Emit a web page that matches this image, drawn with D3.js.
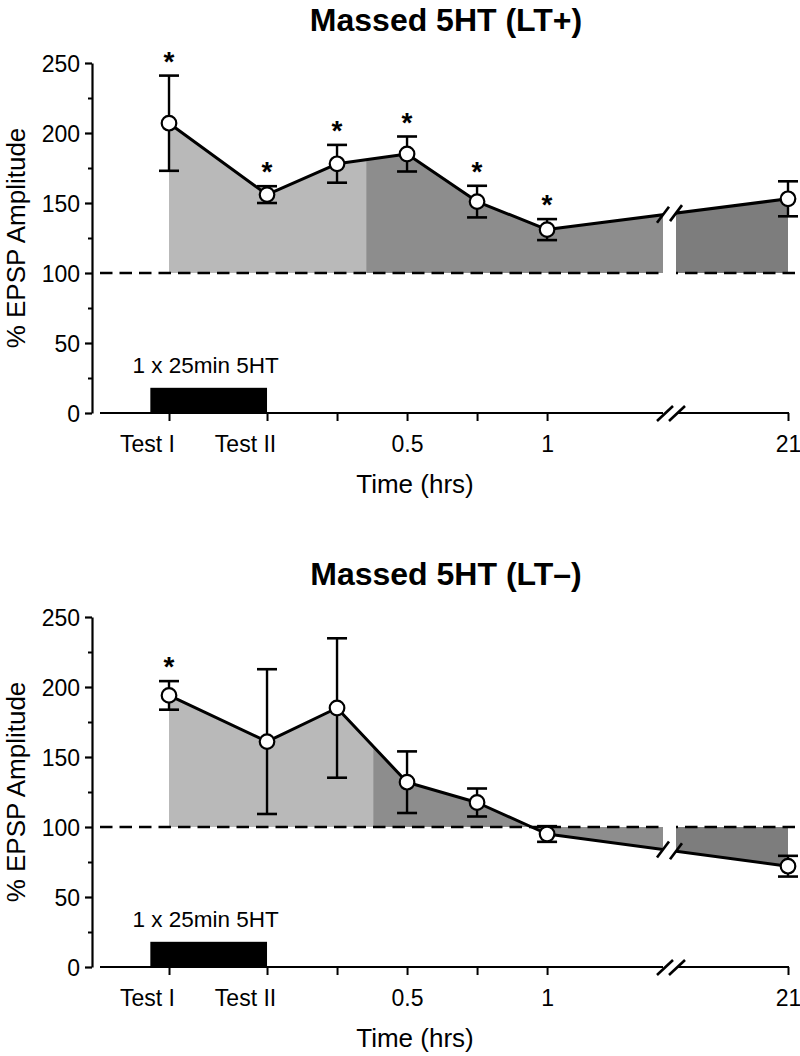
<!DOCTYPE html>
<html><head><meta charset="utf-8">
<script src="https://cdn.jsdelivr.net/npm/d3@7"></script>
<style>
body{margin:0;background:#fff}
svg{display:block}
text{font-family:"Liberation Sans",Arial,Helvetica,sans-serif;fill:#000}
</style>
</head><body>
<svg id="chart" width="800" height="1056"></svg>
<script>
// ---- data ----
const timeHours = [-0.35, 0, 0.25, 0.5, 0.75, 1, 21];
const tickLabels = ["Test I", "Test II", "", "0.5", "", "1", "21"];
const yMajorTicks = [0, 50, 100, 150, 200, 250];
const yMinorTicks = [25, 75, 125, 175, 225];
const titles = ["Massed 5HT (LT+)", "Massed 5HT (LT–)"];
const ltPlusMean = [207, 156, 178, 185, 151, 131, 153];
const ltPlusSem  = [34, 6, 13.5, 12.5, 11.3, 7.5, 12.5];
const ltPlusSig  = [true, true, true, true, true, true, false];
const ltMinusMean = [194, 161, 185, 132, 117.5, 95, 72];
const ltMinusSem  = [10.2, 51.7, 49.8, 22, 10, 5.6, 7.4];
const ltMinusSig  = [true, false, false, false, false, false, false];
const shadeSplitHours = [0.354, 0.379];
const stimLabel = "1 x 25min 5HT";
const stimStartHours = -25 / 60;
const stimEndHours = 0;
const stimLevel = 18;
const baselineLevel = 100;
const yLabel = "% EPSP Amplitude";
const xLabel = "Time (hrs)";

// ---- drawing ----
const svg = d3.select("#chart");
const x = d3.scaleLinear().domain([-0.6, 1.414, 21]).range([99, 663, 788]);
const breakPx = x(1.414);
const gapPx = 13;
const colLight = "#b9b9b9", colMid = "#8d8d8d", colDark = "#7d7d7d";
const FONT = '"Liberation Sans",Arial,Helvetica,sans-serif';

const panels = [
  {top: 0, mean: ltPlusMean, sem: ltPlusSem, sig: ltPlusSig, title: titles[0], split: shadeSplitHours[0]},
  {top: 554, mean: ltMinusMean, sem: ltMinusSem, sig: ltMinusSig, title: titles[1], split: shadeSplitHours[1]}
];

const defs = svg.append("defs");

panels.forEach((p, pi) => {
  const g = svg.append("g").attr("transform", `translate(0,${p.top})`);
  const y = d3.scaleLinear().domain([0, 250]).range([413, 63]);
  const data = timeHours.map((t, i) => ({t, v: p.mean[i], s: p.sem[i], sig: p.sig[i]}));

  const mk = (id, rects) => {
    const cp = defs.append("clipPath").attr("id", id);
    rects.forEach(r => cp.append("rect").attr("x", r[0]).attr("y", 0).attr("width", r[1] - r[0]).attr("height", 1056));
  };
  mk(`light${pi}`, [[0, x(p.split)]]);
  mk(`mid${pi}`, [[x(p.split), breakPx]]);
  mk(`dark${pi}`, [[breakPx + gapPx, 800]]);
  mk(`gap${pi}`, [[0, breakPx], [breakPx + gapPx, 800]]);

  const area = d3.area().x(d => x(d.t)).y0(y(baselineLevel)).y1(d => y(d.v));
  [["light", colLight], ["mid", colMid], ["dark", colDark]].forEach(([k, c]) => {
    g.append("path").datum(data).attr("d", area).attr("fill", c)
      .attr("clip-path", `url(#${k}${pi})`);
  });

  // baseline dashed
  g.append("line").attr("x1", 100).attr("x2", 797)
    .attr("y1", y(baselineLevel)).attr("y2", y(baselineLevel))
    .attr("stroke", "#000").attr("stroke-width", 2.4).attr("stroke-dasharray", "12.5,7")
    .attr("clip-path", `url(#gap${pi})`);

  // y axis
  const ay = g.append("g").attr("transform", "translate(92,0)")
    .call(d3.axisLeft(y).tickValues(yMajorTicks).tickSize(7).tickSizeOuter(0).tickPadding(5));
  ay.selectAll("path,line").attr("stroke", "#000").attr("stroke-width", 2.2);
  ay.selectAll("text").attr("font-size", 23).attr("font-family", FONT).attr("dy", "0.36em");
  const ayMinor = g.append("g").attr("transform", "translate(92,0)")
    .call(d3.axisLeft(y).tickValues(yMinorTicks).tickSize(4).tickFormat(""));
  ayMinor.select(".domain").remove();
  ayMinor.selectAll("line").attr("stroke", "#000").attr("stroke-width", 2);

  // x axis
  const ax = g.append("g").attr("transform", `translate(0,${y(0)})`)
    .call(d3.axisBottom(x).tickValues(timeHours).tickSize(8).tickSizeOuter(0)
      .tickFormat((d, i) => tickLabels[i]));
  ax.select(".domain").remove();
  ax.selectAll("line").attr("stroke", "#000").attr("stroke-width", 2);
  ax.selectAll("text").attr("font-size", 23).attr("y", 39).attr("dy", 0)
    .attr("font-family", FONT)
    .attr("dx", (d, i) => (i < 2 ? -22 : 0));
  g.append("line").attr("x1", 100).attr("x2", breakPx).attr("y1", y(0)).attr("y2", y(0))
    .attr("stroke", "#000").attr("stroke-width", 2.2);
  g.append("line").attr("x1", breakPx + gapPx + 2).attr("x2", x(21) + 1).attr("y1", y(0)).attr("y2", y(0))
    .attr("stroke", "#000").attr("stroke-width", 2.2);
  [breakPx + 2, breakPx + gapPx + 1].forEach(cx => {
    g.append("line").attr("x1", cx - 8).attr("y1", y(0) + 8).attr("x2", cx + 8).attr("y2", y(0) - 7)
      .attr("stroke", "#000").attr("stroke-width", 2.6);
  });

  // stimulus bar
  g.append("rect").attr("x", x(stimStartHours)).attr("y", y(stimLevel))
    .attr("width", x(stimEndHours) - x(stimStartHours)).attr("height", y(0) - y(stimLevel))
    .attr("fill", "#000");
  g.append("text").attr("x", (x(stimStartHours) + x(stimEndHours)) / 2 - 3).attr("y", y(0) - 40)
    .attr("text-anchor", "middle").attr("font-size", 22.5).text(stimLabel);

  // line
  const line = d3.line().x(d => x(d.t)).y(d => y(d.v));
  g.append("path").datum(data).attr("d", line).attr("fill", "none")
    .attr("stroke", "#000").attr("stroke-width", 3).attr("stroke-linejoin", "round")
    .attr("clip-path", `url(#gap${pi})`);
  const a = data[5], b = data[6];
  const yAt = px => y(a.v) + (y(b.v) - y(a.v)) * (px - x(a.t)) / (x(b.t) - x(a.t));
  [breakPx, breakPx + gapPx].forEach(cx => {
    const cy = yAt(cx);
    g.append("line").attr("x1", cx - 6).attr("y1", cy + 8).attr("x2", cx + 6).attr("y2", cy - 8)
      .attr("stroke", "#000").attr("stroke-width", 2.6);
  });

  // error bars
  const eb = g.append("g").selectAll("g").data(data).join("g");
  eb.append("line").attr("x1", d => x(d.t)).attr("x2", d => x(d.t))
    .attr("y1", d => y(d.v - d.s)).attr("y2", d => y(d.v + d.s))
    .attr("stroke", "#000").attr("stroke-width", 2.4);
  [-1, 1].forEach(sg => {
    eb.append("line").attr("x1", d => x(d.t) - 10).attr("x2", d => x(d.t) + 10)
      .attr("y1", d => y(d.v + sg * d.s)).attr("y2", d => y(d.v + sg * d.s))
      .attr("stroke", "#000").attr("stroke-width", 2.6);
  });

  // points
  g.append("g").selectAll("circle").data(data).join("circle")
    .attr("cx", d => x(d.t)).attr("cy", d => y(d.v)).attr("r", 7.3)
    .attr("fill", "#fff").attr("stroke", "#000").attr("stroke-width", 2.2);

  // significance
  g.append("g").selectAll("text").data(data.filter(d => d.sig)).join("text")
    .attr("x", d => x(d.t)).attr("y", d => y(d.v + d.s) - 5)
    .attr("text-anchor", "middle").attr("font-size", 28).attr("font-weight", "bold").text("*");

  // titles / labels
  g.append("text").attr("x", 446).attr("y", 31).attr("text-anchor", "middle")
    .attr("font-size", 32).attr("font-weight", "bold").text(p.title);
  g.append("text").attr("transform", `translate(25,${(y(0) + y(250)) / 2}) rotate(-90)`)
    .attr("text-anchor", "middle").attr("font-size", 26).text(yLabel);
  g.append("text").attr("x", 415).attr("y", y(0) + 80).attr("text-anchor", "middle")
    .attr("font-size", 26).text(xLabel);
});
</script>
</body></html>
